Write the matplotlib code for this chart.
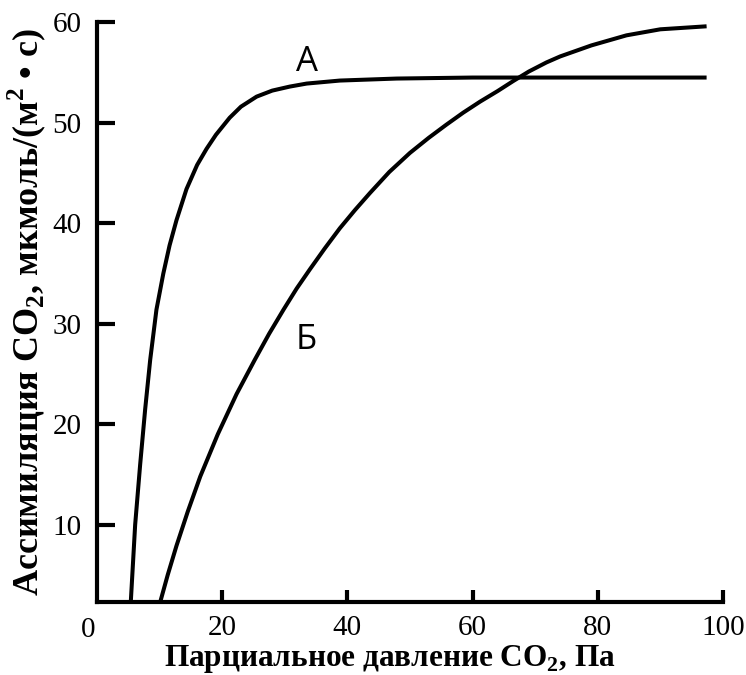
import matplotlib
matplotlib.use("Agg")
import matplotlib.pyplot as plt

# curve A
a_x = [5.4, 6.1, 6.9, 7.7, 8.5, 9.5, 10.6, 11.6, 12.7, 14.3, 16.0, 17.5, 19.0,
       21.2, 23.0, 25.5, 28.0, 30.8, 33.5, 38.8, 47.9, 60, 80, 97.4]
a_y = [2.3, 10, 16, 21.5, 26.4, 31.4, 35.0, 37.8, 40.3, 43.4, 45.8, 47.4, 48.8,
       50.5, 51.6, 52.6, 53.2, 53.6, 53.9, 54.2, 54.4, 54.5, 54.5, 54.5]

# curve B
b_x = [10.1, 11.3, 12.7, 14.5, 16.5, 19.3, 22.3, 25.2, 27.5, 29.8, 31.9, 34.0, 36.4,
       38.8, 41.2, 43.6, 46.7, 50.0, 53.0, 55.8, 58.5, 61.2, 64.0, 66.5, 69.0, 71.8,
       74.0, 79.0, 84.6, 90.0, 97.4]
b_y = [2.3, 5.0, 7.9, 11.3, 14.8, 19.0, 23.0, 26.4, 29.0, 31.4, 33.5, 35.4, 37.5,
       39.5, 41.3, 43.0, 45.1, 47.0, 48.5, 49.8, 51.0, 52.1, 53.15, 54.15, 55.1, 56.0,
       56.6, 57.7, 58.7, 59.3, 59.6]

x_ticks = [20, 40, 60, 80, 100]
y_ticks = [10, 20, 30, 40, 50, 60]

plt.rcParams['mathtext.fontset'] = 'custom'
plt.rcParams['mathtext.rm'] = 'Liberation Serif'
plt.rcParams['mathtext.bf'] = 'Liberation Serif:bold'

fig = plt.figure(figsize=(7.46, 6.75), dpi=100)
ax = fig.add_axes([0.130, 0.108, 0.839, 0.859])

lw = 2.9
ax.plot(a_x, a_y, color='black', lw=lw, solid_joinstyle='round', solid_capstyle='butt')
ax.plot(b_x, b_y, color='black', lw=lw, solid_joinstyle='round', solid_capstyle='butt')

ax.set_xlim(0, 100)
ax.set_ylim(2.3, 60)
for s in ['top', 'right']:
    ax.spines[s].set_visible(False)
for s in ['left', 'bottom']:
    ax.spines[s].set_linewidth(3)

ax.set_xticks(x_ticks)
ax.set_yticks(y_ticks)
ax.tick_params(axis='both', direction='in', width=3, labelsize=21)
ax.tick_params(axis='y', length=13, pad=11)
ax.tick_params(axis='x', length=9, pad=9)
for lab in ax.get_xticklabels() + ax.get_yticklabels():
    lab.set_fontfamily('Liberation Serif')

ax.text(-1.4, -0.5, '0', ha='center', va='center', fontsize=21,
        family='Liberation Serif', clip_on=False)

ax.text(33.5, 56.0, 'А', fontsize=25, family='Open Sans', ha='center', va='center')
ax.text(33.4, 28.4, 'Б', fontsize=25, family='Open Sans', ha='center', va='center')

ax.set_xlabel('Парциальное давление CO$_\\mathbf{2}$, Па', fontsize=22.5,
              family='Liberation Serif', fontweight='bold', labelpad=2)
ax.xaxis.label.set_x(0.468)
ax.set_ylabel('Ассимиляция CO$_\\mathbf{2}$, мкмоль/(м$^\\mathbf{2}$ • с)', fontsize=26,
              family='Liberation Serif', fontweight='bold', labelpad=3)

fig.savefig('out.png', dpi=100)
